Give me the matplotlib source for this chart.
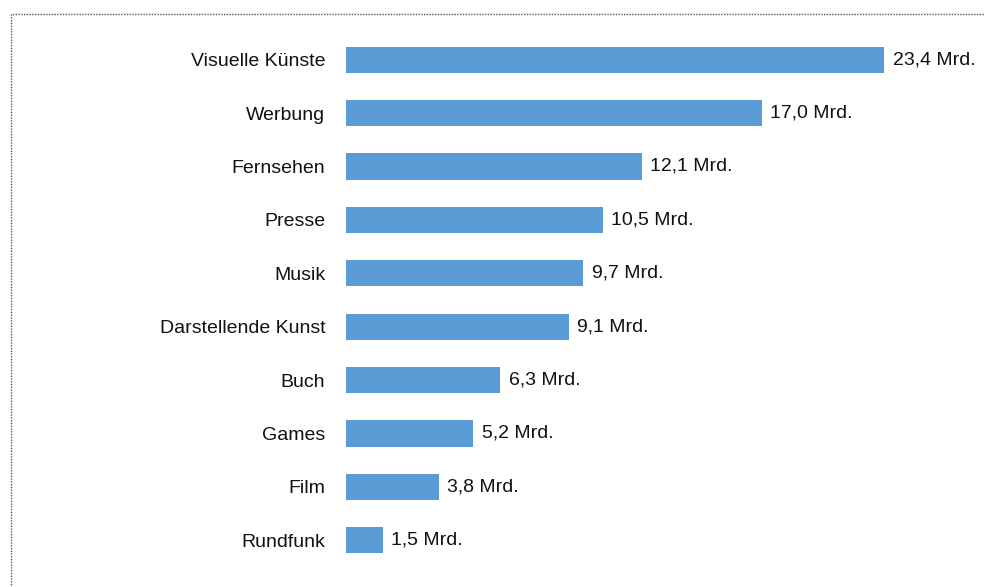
import matplotlib.pyplot as plt
from matplotlib.patches import Rectangle

# Umsatz der Teilmärkte (Mrd.)
categories = ['Visuelle Künste', 'Werbung', 'Fernsehen', 'Presse', 'Musik',
              'Darstellende Kunst', 'Buch', 'Games', 'Film', 'Rundfunk']
values = [23.4, 17.0, 12.1, 10.5, 9.7, 9.1, 6.3, 5.2, 3.8, 1.5]
value_labels = ['23,4 Mrd.', '17,0 Mrd.', '12,1 Mrd.', '10,5 Mrd.', '9,7 Mrd.',
                '9,1 Mrd.', '6,3 Mrd.', '5,2 Mrd.', '3,8 Mrd.', '1,5 Mrd.']

plt.rcParams['font.family'] = ['Liberation Sans Narrow', 'Liberation Sans', 'DejaVu Sans']

fig = plt.figure(figsize=(9.85, 5.87), dpi=100)
W, H = 985, 587
ax = fig.add_axes([346 / W, 1 - 567 / H, 538 / W, (567 - 33) / H])

xmax = 22.0
y = list(range(len(categories)))
ax.barh(y, values, height=0.49, color='#5b9bd5')
ax.set_xlim(0, xmax)
ax.set_ylim(len(categories) - 0.5, -0.5)

for yi, v, lab in zip(y, values, value_labels):
    ax.text(min(v, xmax) + 0.35, yi, lab, va='center', ha='left',
            fontsize=14, color='#111111', clip_on=False)

ax.set_yticks(y)
ax.set_yticklabels(categories, fontsize=14, color='#111111')
ax.tick_params(axis='y', length=0, pad=15)
ax.set_xticks([])
for s in ax.spines.values():
    s.set_visible(False)

# gepunkteter Rahmen
fig.patches.append(Rectangle((11 / W, -0.05), 1.1, 1 - 14 / H + 0.05,
                             transform=fig.transFigure, fill=False,
                             edgecolor='#555555', linestyle=(0, (1, 1)), lw=1))

fig.savefig('out.png', dpi=100)
